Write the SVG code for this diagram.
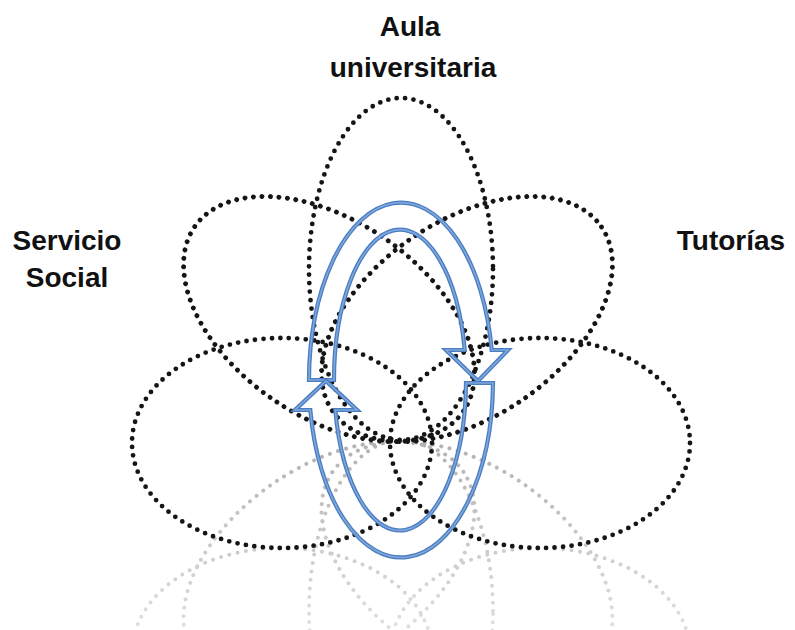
<svg xmlns="http://www.w3.org/2000/svg" width="795" height="630" viewBox="0 0 795 630">
  <defs>
    <style>
      .dot { fill: none; stroke: #151515; stroke-width: 4.8; stroke-linecap: round; stroke-dasharray: 0 8.5; }
      .rdot { fill: none; stroke: #8c8c8c; stroke-width: 4; stroke-linecap: round; stroke-dasharray: 0 8.5; }
      .lbl { font-family: "Liberation Sans", Arial, sans-serif; font-weight: bold; font-size: 28px; fill: #111; text-anchor: middle; }
      .arw { fill: none; stroke: #4a7dc0; stroke-width: 4.2; stroke-linejoin: miter; }
      .arwhi { fill: none; stroke: #7fa7dc; stroke-width: 1.6; stroke-linejoin: miter; }
    </style>
    <linearGradient id="fade" gradientUnits="userSpaceOnUse" x1="0" y1="430" x2="0" y2="640">
      <stop offset="0" stop-color="#fff" stop-opacity="0.7"/>
      <stop offset="1" stop-color="#fff" stop-opacity="0.25"/>
    </linearGradient>
    <mask id="reflMask" maskUnits="userSpaceOnUse" x="0" y="0" width="795" height="630">
      <rect x="0" y="0" width="795" height="630" fill="url(#fade)"/>
    </mask>
  </defs>

  <!-- reflections -->
  <g id="reflections" mask="url(#reflMask)">
    <ellipse class="rdot" cx="401" cy="269" rx="92" ry="171" transform="matrix(1 0 0 -1 0 880)"/>
    <ellipse class="rdot" cx="329" cy="319" rx="163" ry="98" transform="matrix(1 0 0 -1 0 883) rotate(34.4 329 319)"/>
    <ellipse class="rdot" cx="467" cy="319" rx="163" ry="98" transform="matrix(1 0 0 -1 0 883) rotate(-34.4 467 319)"/>
    <ellipse class="rdot" cx="282" cy="443" rx="150" ry="105" transform="matrix(1 0 0 -1 0 1096)"/>
    <ellipse class="rdot" cx="540" cy="443" rx="150" ry="105" transform="matrix(1 0 0 -1 0 1096)"/>
  </g>

  <g id="node-aula">
    <ellipse class="dot" cx="401" cy="269" rx="92" ry="171"/>
    <text class="lbl" x="410" y="36">Aula</text>
    <text class="lbl" x="413" y="77">universitaria</text>
  </g>
  <g id="node-servicio">
    <ellipse class="dot" cx="329" cy="319" rx="163" ry="98" transform="rotate(34.4 329 319)"/>
    <text class="lbl" x="67" y="250">Servicio</text>
    <text class="lbl" x="67" y="287">Social</text>
  </g>
  <g id="node-tutorias">
    <ellipse class="dot" cx="467" cy="319" rx="163" ry="98" transform="rotate(-34.4 467 319)"/>
    <text class="lbl" x="731" y="250">Tutorías</text>
  </g>
  <g id="node-lower-left">
    <ellipse class="dot" cx="282" cy="443" rx="150" ry="105"/>
  </g>
  <g id="node-lower-right">
    <ellipse class="dot" cx="540" cy="443" rx="150" ry="105"/>
  </g>

  <g id="connectors">
    <path id="arrow-top" class="arw" d="M 309,380 A 92 177 0 0 1 491.7,350 L 508,350 L 478,381 L 446,350 L 464.7,350 A 66 150 0 0 0 334,380 Z"/>
    <path class="arwhi" d="M 309,380 A 92 177 0 0 1 491.7,350 L 508,350 L 478,381 L 446,350 L 464.7,350 A 66 150 0 0 0 334,380 Z"/>
    <path id="arrow-bottom" class="arw" d="M 466,383 L 493,383 A 92 177 0 0 1 310.3,410 L 295,410 L 326,381 L 357,410 L 335.3,410 A 66 150 0 0 0 466,383 Z"/>
    <path class="arwhi" d="M 466,383 L 493,383 A 92 177 0 0 1 310.3,410 L 295,410 L 326,381 L 357,410 L 335.3,410 A 66 150 0 0 0 466,383 Z"/>
  </g>
</svg>
